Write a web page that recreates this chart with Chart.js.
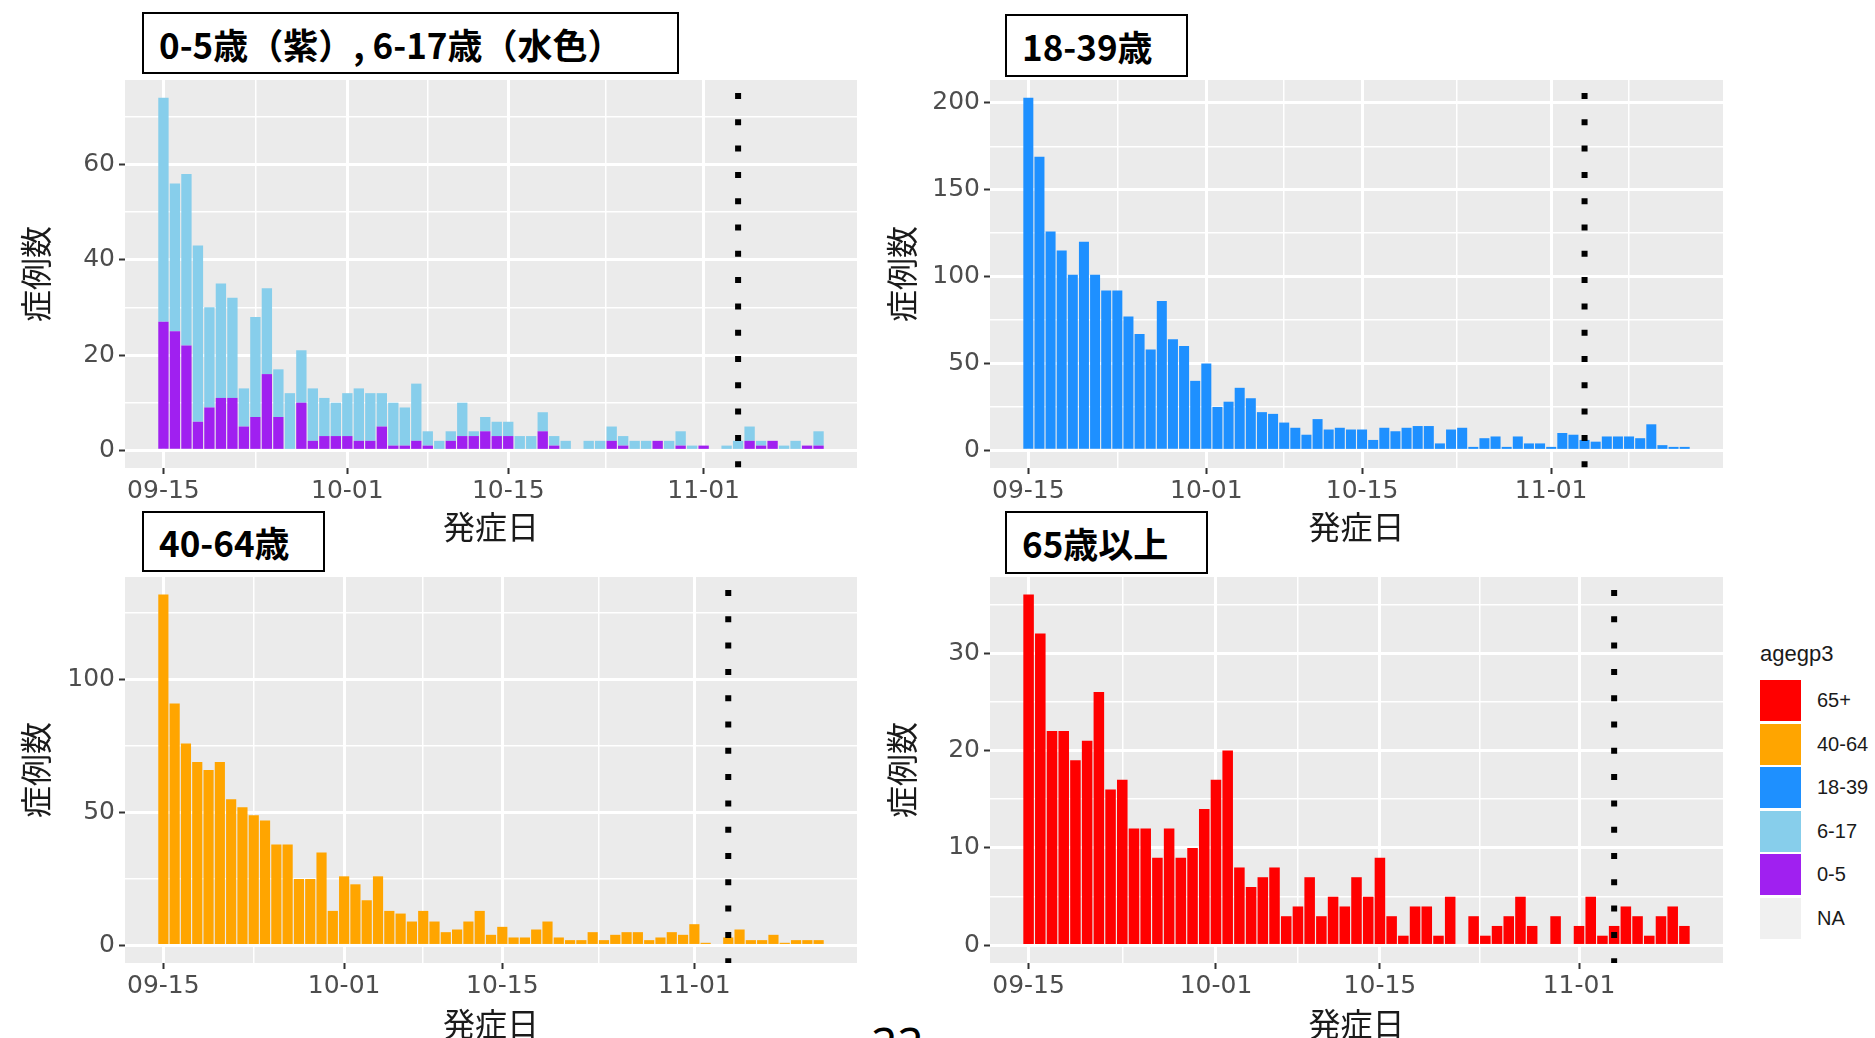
<!DOCTYPE html>
<html>
<head>
<meta charset="utf-8">
<script src="https://cdn.jsdelivr.net/npm/chart.js@4.4.1/dist/chart.umd.min.js"></script>
<style>
body{margin:0;width:1875px;height:1038px;overflow:hidden;background:#fff;position:relative;font-family:"Noto Sans CJK JP",sans-serif}
canvas{position:absolute}
.ttl{position:absolute;box-sizing:border-box;background:#fff;border:2px solid #000;font-weight:bold;font-size:35px;color:#000;display:flex;align-items:center;padding-left:15px;white-space:nowrap;z-index:2}
#legend{position:absolute;left:1760px;top:641px;font-family:"Liberation Sans",Arial,sans-serif;color:#1a1a1a}
#legend .lt{font-size:22px;line-height:26px;height:38px}
#legend .row{display:flex;align-items:center;height:43.5px}
#legend .key{width:41px;height:41px;margin-right:16px}
#legend .lab{font-size:20px}
#pgno{position:absolute;left:871px;top:1020px;font-family:"Noto Sans",sans-serif;font-size:46px;line-height:1;color:#000}
</style>
</head>
<body>
<div class="ttl" style="left:142px;top:12px;width:537px;height:62px">0-5歳（紫）, 6-17歳（水色）</div>
<div class="ttl" style="left:1005px;top:14px;width:183px;height:63px">18-39歳</div>
<div class="ttl" style="left:142px;top:511px;width:183px;height:61px">40-64歳</div>
<div class="ttl" style="left:1005px;top:511px;width:203px;height:63px">65歳以上</div>
<div id="legend"></div>
<div id="pgno">22</div>
<script>
// x = days since 09-15
const tickDays=[0,16,30,47];
const tickLabels=['09-15','10-01','10-15','11-01'];
const minorDays=[8,23,38.5];
const markDay=50; // dotted line, 11-04

const age0_5=[27,25,22,6,9,11,11,5,7,16,7,0,10,2,3,3,3,2,2,5,1,1,2,1,0,2,3,3,4,3,3,0,0,4,1,0,0,0,0,2,1,0,0,2,0,1,0,1,0,0,0,2,1,2,0,0,1,1];
const age6_17=[47,31,36,37,21,24,21,8,21,18,10,12,11,11,8,7,9,11,10,7,9,8,12,3,2,2,7,1,3,3,3,3,3,4,2,2,0,2,2,3,2,2,2,0,2,3,1,0,0,1,2,3,1,0,1,2,0,3];
const age18_39=[203,169,126,115,101,120,101,92,92,77,67,58,86,64,60,40,50,25,28,36,30,22,21,16,13,9,18,12,13,12,12,6,13,11,13,14,14,4,12,13,2,7,8,2,8,4,4,2,10,9,6,5,8,8,8,7,15,3,2,2];
const age40_64=[132,91,76,69,66,69,55,52,49,47,38,38,25,25,35,13,26,23,17,26,13,12,9,13,9,5,6,9,13,4,7,3,3,6,9,3,2,2,5,2,4,5,5,2,3,5,4,8,1,0,3,6,2,2,4,1,2,2,2];
const age65=[36,32,22,22,19,21,26,16,17,12,12,9,12,9,10,14,17,20,8,6,7,8,3,4,7,3,5,4,7,5,9,3,1,4,4,1,5,0,3,1,2,3,5,2,0,3,0,2,5,1,2,4,3,1,3,4,2];

const legendLabels=['65+','40-64','18-39','6-17','0-5','NA'];
const legendColors=['#FF0000','#FFA500','#1E90FF','#87CEEB','#A020F0','#F0F0F0'];

const panelBg={id:'panelBg',beforeDraw(c){const a=c.chartArea,x=c.ctx;x.save();x.fillStyle='#EBEBEB';x.fillRect(a.left,a.top,a.right-a.left,a.bottom-a.top);x.restore();}};

const tickFont={family:'"DejaVu Sans"',size:25};
const titleFont={family:'"Noto Sans CJK JP"',size:32};

function gridOpts(major){
  return {color:'#fff',lineWidth:c=>c.tick&&major.includes(c.tick.value)?3:1.5,drawTicks:true,tickLength:6,tickWidth:2,
    tickColor:c=>c.tick&&major.includes(c.tick.value)?'#333':'rgba(0,0,0,0)',offset:false};
}

function panel(series,yMajor,yMinor,xMinor,g){
  const cv=document.createElement('canvas');
  cv.width=g.w;cv.height=g.h;cv.style.left=g.l+'px';cv.style.top=g.t+'px';
  document.body.appendChild(cv);
  const n=series[0].data.length;
  const tot=series[0].data.map((_,i)=>series.reduce((s,d)=>s+d.data[i],0));
  const top=Math.max(...tot);
  const yMin=-0.05*top,yMax=1.05*top;
  const span=n-1+0.9;
  const xMin=-0.45-0.05*span,xMax=n-1+0.45+0.05*span;
  const ds=series.map(s=>({label:s.label,data:s.data.map((v,i)=>({x:i,y:v})),backgroundColor:s.color,borderWidth:0,barPercentage:0.9,categoryPercentage:1,order:2}));
  ds.push({type:'line',label:'cut',stack:'vline',data:[{x:markDay,y:yMax},{x:markDay,y:yMin}],borderColor:'#000',borderWidth:6,
    borderDash:[6,20.3],borderDashOffset:13.3,borderCapStyle:'butt',pointRadius:0,order:0});
  const xt=[...tickDays,...xMinor].sort((a,b)=>a-b);
  const yt=[...yMajor,...yMinor].sort((a,b)=>a-b);
  return new Chart(cv,{
    type:'bar',
    data:{datasets:ds},
    options:{
      responsive:false,animation:false,
      layout:{padding:{left:g.pl,top:g.pt,right:g.pr,bottom:g.pb}},
      plugins:{legend:{display:false},tooltip:{enabled:false}},
      scales:{
        x:{type:'linear',min:xMin,max:xMax,offset:false,stacked:true,
          afterBuildTicks:s=>{s.ticks=xt.map(v=>({value:v}));},
          afterFit:s=>{s.height=g.xh;},
          grid:gridOpts(tickDays),border:{display:false},
          ticks:{autoSkip:false,maxRotation:0,minRotation:0,padding:2,color:'#4D4D4D',font:tickFont,
            callback:v=>{const k=tickDays.indexOf(v);return k<0?'':tickLabels[k];}},
          title:{display:true,text:'発症日',color:'#1A1A1A',font:titleFont,padding:0}},
        y:{min:yMin,max:yMax,stacked:true,
          afterBuildTicks:s=>{s.ticks=yt.map(v=>({value:v}));},
          afterFit:s=>{s.width=g.yw;},
          grid:gridOpts(yMajor),border:{display:false},
          ticks:{autoSkip:false,padding:4,color:'#4D4D4D',font:tickFont,callback:v=>yMajor.includes(v)?String(v):''},
          title:{display:true,text:'症例数',color:'#1A1A1A',font:titleFont,padding:0}}
      }
    },
    plugins:[panelBg]
  });
}

// top-left: 0-5 + 6-17 stacked
panel([{label:'0-5',data:age0_5,color:'#A020F0'},{label:'6-17',data:age6_17,color:'#87CEEB'}],
  [0,20,40,60],[10,30,50,70],minorDays,{l:0,t:60,w:872,h:500,pl:17,pt:20,pr:15,pb:14,yw:108,xh:78});
// top-right: 18-39
panel([{label:'18-39',data:age18_39,color:'#1E90FF'}],
  [0,50,100,150,200],[25,75,125,175],[...minorDays,54],{l:880,t:60,w:860,h:500,pl:3,pt:20,pr:17,pb:14,yw:107,xh:78});
// bottom-left: 40-64
panel([{label:'40-64',data:age40_64,color:'#FFA500'}],
  [0,50,100],[25,75,125],minorDays,{l:0,t:557,w:872,h:500,pl:17,pt:20,pr:15,pb:14,yw:108,xh:80});
// bottom-right: 65+
panel([{label:'65+',data:age65,color:'#FF0000'}],
  [0,10,20,30],[5,15,25,35],minorDays,{l:880,t:557,w:860,h:500,pl:3,pt:20,pr:17,pb:14,yw:107,xh:80});

const lg=document.getElementById('legend');
lg.innerHTML='<div class="lt">agegp3</div>'+legendLabels.map((s,i)=>`<div class="row"><div class="key" style="background:${legendColors[i]}"></div><div class="lab">${s}</div></div>`).join('');
</script>
</body>
</html>
